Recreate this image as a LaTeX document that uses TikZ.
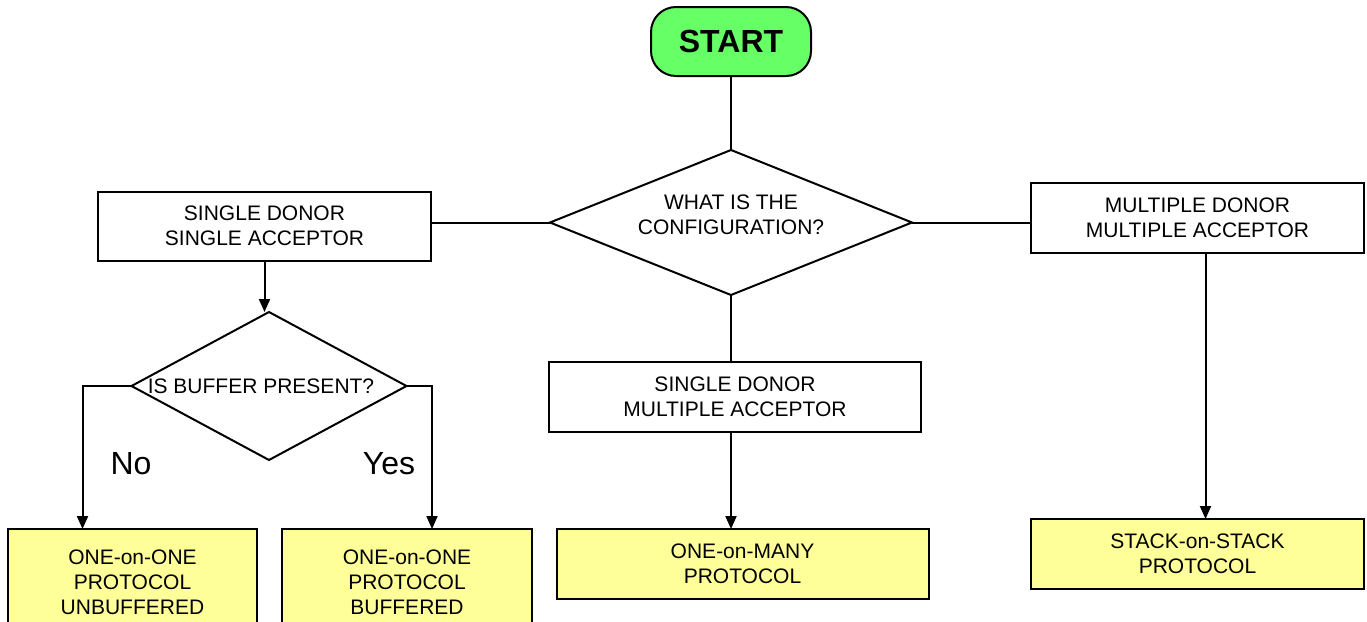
\documentclass[tikz,border=0pt]{standalone}
\usepackage{fontspec}
\setmainfont{Liberation Sans}
\usetikzlibrary{shapes.geometric, arrows.meta}
\definecolor{startgreen}{RGB}{102,255,102}
\definecolor{protoyellow}{RGB}{255,255,153}

\begin{document}
\begin{tikzpicture}[x=1pt, y=-1pt, line width=2pt, inner sep=0, outer sep=0,
  font=\fontsize{21}{25}\selectfont,
  whitebox/.style={rectangle, draw=black, align=center, fill=white},
  yellowbox/.style={whitebox, fill=protoyellow},
  decision/.style={diamond, draw=black, fill=white},
  bigtext/.style={font=\fontsize{32}{36}\selectfont},
  >={Triangle[length=13pt, width=11pt]}]
  \useasboundingbox (0, 0) rectangle (1367, 621);

  \node[rectangle, draw=black,
    rounded corners=25pt,
    minimum width = 160pt,
    minimum height = 69pt,
    fill = startgreen,
    font=\fontsize{32}{36}\selectfont\bfseries] (start) at (731, 41.5) {START};

  \node[decision,
    minimum width = 362pt,
    minimum height = 145pt] (if1) at (731, 222.5) {};
  \node[align=center] (if1-text) at ([yshift=8pt]if1.center) {WHAT IS THE\\CONFIGURATION?};

  \node[whitebox,
    minimum width = 333pt,
    minimum height = 69pt] (box1) at (264.5, 226) {SINGLE DONOR\\SINGLE ACCEPTOR};

  \node[whitebox,
    minimum width = 372pt,
    minimum height = 70pt] (box2) at (735, 396.5) {SINGLE DONOR\\MULTIPLE ACCEPTOR};

  \node[whitebox,
    minimum width = 333pt,
    minimum height = 70pt] (box3) at (1197.5, 218) {MULTIPLE DONOR\\MULTIPLE ACCEPTOR};

  \node[decision,
    minimum width = 275pt,
    minimum height = 148pt] (if2) at (269, 386) {};
  \node (if2-text) at ([xshift=-8pt]if2.center) {IS BUFFER PRESENT?};

  \node[yellowbox,
    minimum width = 249pt,
    minimum height = 106pt] (box4) at (132.5, 582) {ONE-on-ONE\\PROTOCOL\\UNBUFFERED};

  \node[yellowbox,
    minimum width = 250pt,
    minimum height = 106pt] (box5) at (407, 582) {ONE-on-ONE\\PROTOCOL\\BUFFERED};

  \node[yellowbox,
    minimum width = 372pt,
    minimum height = 70pt] (box6) at (742.5, 564) {ONE-on-MANY\\PROTOCOL};

  \node[yellowbox,
    minimum width = 333pt,
    minimum height = 70pt] (box7) at (1197.5, 554) {STACK-on-STACK\\PROTOCOL};

  \node[bigtext] (no) at (131, 464) {No};
  \node[bigtext] (yes) at (389, 464) {Yes};

  \draw (start.south) -- (if1.north);
  \draw (if1.west) -- (if1.west -| box1.east);
  \draw (if1.east) -- (if1.east -| box3.west);
  \draw (if1.south) -- (if1.south |- box2.north);

  \draw[->] (box1.south) -- (box1.south |- if2.north);
  \draw[->] (box2.south -| if1.south) -- (if1.south |- box6.north);
  \draw[->] ([xshift=8pt]box3.south) -- ([xshift=8pt]box7.north);

  \coordinate (cross1) at ([xshift=-50pt]box4.north);
  \coordinate (cross2) at ([xshift=25pt]box5.north);
  \draw[->] (if2.west) -| (cross1);
  \draw[->] (if2.east) -| (cross2);
\end{tikzpicture}
\end{document}
